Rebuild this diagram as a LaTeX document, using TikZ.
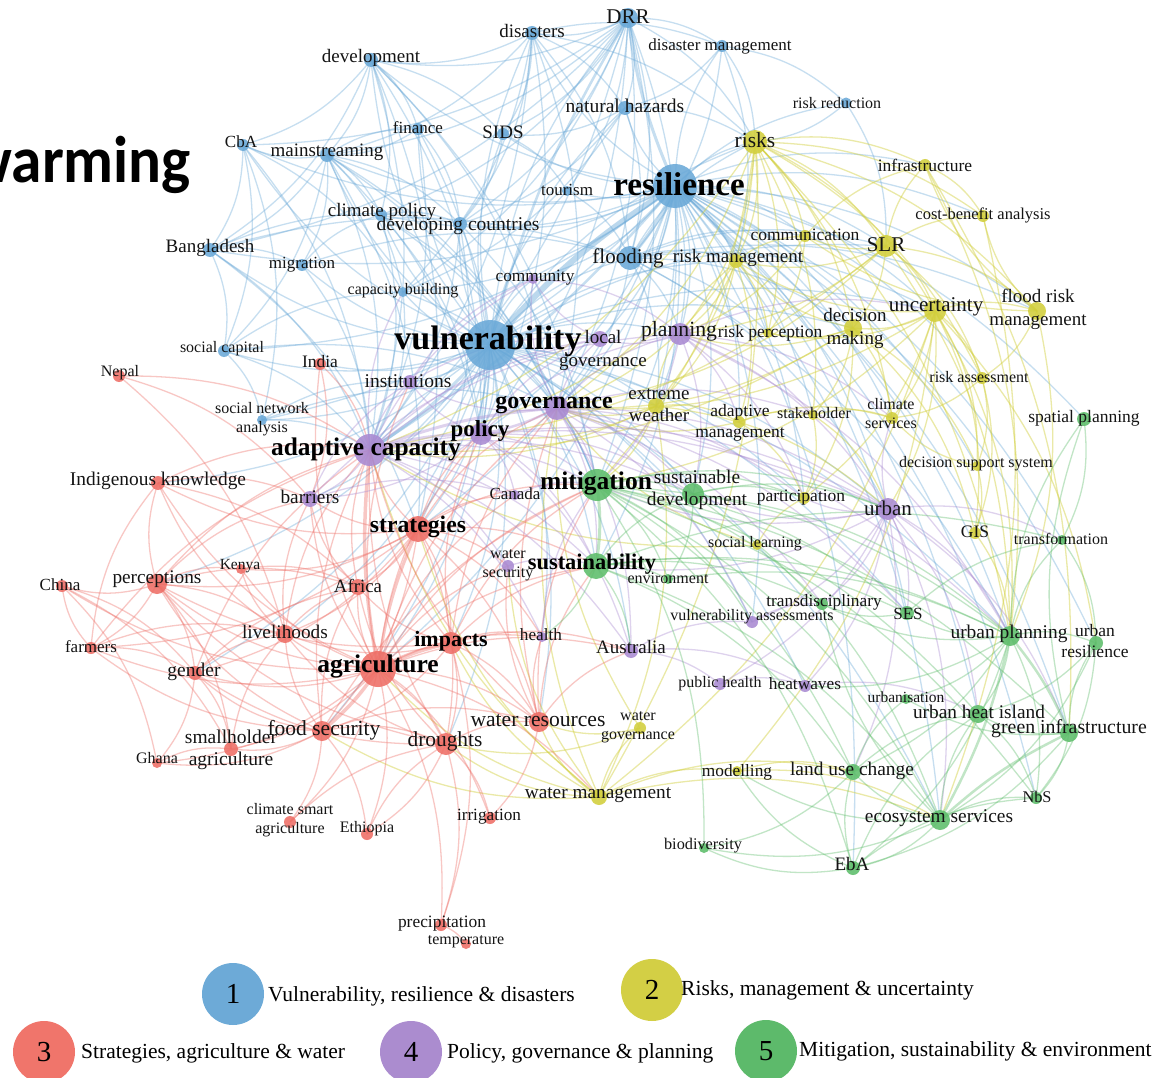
\documentclass[tikz,border=0pt]{standalone}
\usepackage{fontspec}
\setmainfont{Liberation Serif}
\newfontfamily\warmfont{Carlito}
\usetikzlibrary{backgrounds}
\pgfdeclarelayer{bottom}
\pgfsetlayers{bottom,background,main}
\definecolor{cA}{HTML}{6AA9D8}
\definecolor{cB}{HTML}{D2CF3C}
\definecolor{cC}{HTML}{EE6E66}
\definecolor{cD}{HTML}{A98AD2}
\definecolor{cE}{HTML}{5DBD6A}
\definecolor{lA}{HTML}{6DAAD7}
\definecolor{lB}{HTML}{D3CF45}
\definecolor{lC}{HTML}{F0756B}
\definecolor{lD}{HTML}{AB8CCF}
\definecolor{lE}{HTML}{5DBA6B}
\tikzset{
  kw/.style={circle,inner sep=0pt,draw=none,fill opacity=0.88},
  kA/.style={kw,fill=cA,minimum size=#1},
  kB/.style={kw,fill=cB,minimum size=#1},
  kC/.style={kw,fill=cC,minimum size=#1},
  kD/.style={kw,fill=cD,minimum size=#1},
  kE/.style={kw,fill=cE,minimum size=#1},
  lab/.style={inner sep=0pt,text=black!92,font=\fontsize{#1}{#1}\selectfont},
  blab/.style={inner sep=0pt,text=black,font=\fontsize{#1}{#1}\selectfont\bfseries},
  ml/.style={align=center},
  eA/.style={draw=cA,draw opacity=0.38,line width=1.3pt},
  eB/.style={draw=cB,draw opacity=0.45,line width=1.3pt},
  eC/.style={draw=cC,draw opacity=0.38,line width=1.3pt},
  eD/.style={draw=cD,draw opacity=0.38,line width=1.3pt},
  eE/.style={draw=cE,draw opacity=0.38,line width=1.3pt},
  legc/.style={circle,inner sep=0pt,minimum width=60pt,minimum height=62pt,font=\fontsize{29}{29}\selectfont},
  legt/.style={anchor=west,inner sep=0pt,font=\fontsize{21.5}{21.5}\selectfont},
}
\begin{document}
\begin{tikzpicture}[x=1pt,y=-1pt]
\useasboundingbox (0,0) rectangle (1168,1078);
\begin{pgfonlayer}{bottom}
\fill[white] (0,0) rectangle (1168,1078);
\end{pgfonlayer}
\begin{scope}
\clip (0,0) rectangle (1168,1078);
\node[anchor=base east,inner sep=0pt,xscale=0.93,font=\warmfont\bfseries\fontsize{66}{66}\selectfont] (warm) at (191,183) {warming};
\end{scope}
% ---------- cluster 1 (blue)
\node[kA=20] (drr) at (628,18) {};
\node[kA=14] (dis) at (532,33) {};
\node[kA=12] (dism) at (722,46) {};
\node[kA=14] (dev) at (371,60) {};
\node[kA=14] (nh) at (625,108) {};
\node[kA=11] (rr) at (846,103) {};
\node[kA=12] (fin) at (418,129) {};
\node[kA=12] (sids) at (503,134) {};
\node[kA=12] (cba) at (243,145) {};
\node[kA=14] (main) at (327,155) {};
\node[kA=10] (tour) at (567,191) {};
\node[kA=44] (res) at (675,186) {};
\node[kA=12] (cp) at (381,215) {};
\node[kA=14] (dc) at (460,224) {};
\node[kA=14] (bang) at (210,250) {};
\node[kA=12] (mig) at (302,265) {};
\node[kA=24] (flood) at (630,258) {};
\node[kA=10] (cb) at (403,292) {};
\node[kA=50] (vul) at (490,345) {};
\node[kA=12] (sc) at (224,351) {};
\node[kA=10] (sna) at (262,420) {};
% ---------- cluster 2 (yellow)
\node[kB=24] (risks) at (755,142) {};
\node[kB=12] (infra) at (925,165) {};
\node[kB=12] (cbana) at (983,216) {};
\node[kB=12] (comm) at (805,236) {};
\node[kB=22] (slr) at (886,246) {};
\node[kB=14] (rm) at (736,261) {};
\node[kB=10] (rp) at (768,333) {};
\node[kB=18] (dm) at (853,328) {};
\node[kB=22] (unc) at (935,311) {};
\node[kB=18] (frm) at (1037,311) {};
\node[kB=12] (ra) at (982,378) {};
\node[kB=16] (ew) at (656,406) {};
\node[kB=12] (am) at (739,422) {};
\node[kB=10] (stake) at (813,415) {};
\node[kB=12] (cs) at (892,418) {};
\node[kB=10] (dss) at (977,466) {};
\node[kB=12] (part) at (804,498) {};
\node[kB=12] (gis) at (975,533) {};
\node[kB=10] (sl) at (757,545) {};
\node[kB=12] (wg) at (640,728) {};
\node[kB=10] (mod) at (737,771) {};
\node[kB=16] (wm) at (599,797) {};
% ---------- cluster 3 (red)
\node[kC=12] (nepal) at (119,376) {};
\node[kC=12] (india) at (320,364) {};
\node[kC=14] (ik) at (158,483) {};
\node[kC=12] (china) at (62,586) {};
\node[kC=20] (perc) at (157,584) {};
\node[kC=10] (kenya) at (241,569) {};
\node[kC=16] (africa) at (358,587) {};
\node[kC=26] (strat) at (418,529) {};
\node[kC=12] (farm) at (91,648) {};
\node[kC=18] (live) at (285,634) {};
\node[kC=14] (gender) at (195,673) {};
\node[kC=36] (agri) at (378,669) {};
\node[kC=22] (imp) at (451,643) {};
\node[kC=14] (sha) at (231,749) {};
\node[kC=10] (ghana) at (157,763) {};
\node[kC=20] (fs) at (322,731) {};
\node[kC=22] (drought) at (446,744) {};
\node[kC=20] (wr) at (539,722) {};
\node[kC=12] (csa) at (290,822) {};
\node[kC=12] (eth) at (367,834) {};
\node[kC=12] (irr) at (490,818) {};
\node[kC=12] (prec) at (441,925) {};
\node[kC=10] (temp) at (466,944) {};
% ---------- cluster 4 (purple)
\node[kD=16] (local) at (600,339) {};
\node[kD=22] (plan) at (680,334) {};
\node[kD=14] (inst) at (410,382) {};
\node[kD=24] (gov) at (557,408) {};
\node[kD=22] (pol) at (481,434) {};
\node[kD=32] (ac) at (370,450) {};
\node[kD=16] (barr) at (310,499) {};
\node[kD=12] (ws) at (508,566) {};
\node[kD=22] (urban) at (888,509) {};
\node[kD=12] (va) at (752,622) {};
\node[kD=14] (aus) at (631,651) {};
\node[kD=12] (ph) at (720,684) {};
\node[kD=12] (heat) at (805,686) {};
\node[kD=10] (health) at (542,637) {};
\node[kD=10] (cmty) at (533,279) {};
\node[kD=10] (canada) at (515,495) {};
% ---------- cluster 5 (green)
\node[kE=14] (sp) at (1084,419) {};
\node[kE=32] (mit) at (597,485) {};
\node[kE=22] (sd) at (693,494) {};
\node[kE=26] (sust) at (596,566) {};
\node[kE=10] (env) at (668,579) {};
\node[kE=10] (transf) at (1062,540) {};
\node[kE=12] (trans) at (822,604) {};
\node[kE=14] (ses) at (907,613) {};
\node[kE=20] (up) at (1010,636) {};
\node[kE=14] (ur) at (1096,643) {};
\node[kE=10] (urbn) at (906,699) {};
\node[kE=18] (uhi) at (978,714) {};
\node[kE=18] (gi) at (1069,733) {};
\node[kE=16] (luc) at (853,772) {};
\node[kE=12] (nbs) at (1036,798) {};
\node[kE=20] (es) at (940,820) {};
\node[kE=10] (bio) at (704,848) {};
\node[kE=14] (eba) at (853,868) {};
% ================= edges
\begin{pgfonlayer}{background}
\foreach \a/\b in {vul/flood,vul/dis,vul/drr,vul/dev,vul/main,vul/cp,vul/dc,vul/bang,vul/mig,vul/cb,vul/sc,vul/sna,vul/sids,vul/fin,vul/tour,vul/nh,vul/cba,vul/gov,vul/pol,vul/agri,vul/strat,vul/imp,vul/mit,vul/sust,vul/plan,vul/local,vul/inst,vul/urban,vul/risks,vul/unc,vul/india,vul/perc,vul/live,vul/ew,vul/wr,vul/fs,vul/drought,vul/health,vul/sd,vul/aus,vul/cmty,vul/slr,vul/rm,vul/dm,vul/barr,vul/africa,vul/ik,vul/gender,vul/up,vul/es,vul/va,vul/heat,vul/ses,vul/part,
res/dis,res/dism,res/nh,res/rr,res/risks,res/slr,res/unc,res/comm,res/rm,res/infra,res/sids,res/tour,res/dc,res/main,res/dev,res/cp,res/plan,res/gov,res/urban,res/dm,res/frm,res/up,res/sust,res/mit,res/sd,res/ses,res/transf,res/gi,res/es,res/cmty,res/local,res/ew,res/ra,res/cs,res/dss,res/part,res/rp,res/ur,res/uhi,res/cb,res/bang,res/pol,res/sp,res/am,res/stake,res/va,res/eba,res/nbs,res/cbana,res/cba,res/sc,res/sna,res/strat,res/agri,
drr/dis,drr/dism,drr/nh,drr/main,drr/dev,drr/cp,drr/sids,drr/cb,drr/dc,drr/flood,drr/risks,drr/bang,drr/cba,drr/ac,drr/tour,drr/ew,drr/gov,drr/pol,drr/mit,
dis/dev,dis/nh,dis/dism,dis/sids,dis/flood,dis/main,dis/cb,dis/dc,dis/ac,dis/risks,dis/pol,dis/gov,
dism/nh,dism/flood,dism/risks,dism/rr,dism/rm,
dev/main,dev/cba,dev/cp,dev/fin,dev/ac,dev/sids,dev/bang,dev/gov,dev/pol,dev/mit,dev/strat,
main/cba,main/cp,main/dc,main/fin,main/ac,main/bang,main/sc,main/cb,main/mig,main/gov,main/pol,main/strat,main/mit,
cba/bang,cba/cb,cba/sc,cba/sna,cba/ac,bang/mig,bang/flood,bang/ac,bang/sc,bang/dc,bang/strat,mig/flood,mig/ac,mig/cp,
flood/rm,flood/risks,flood/slr,flood/unc,flood/frm,flood/plan,flood/dm,flood/comm,flood/rp,flood/ew,flood/urban,flood/up,flood/gov,
nh/flood,nh/risks,nh/sids,nh/cb,nh/dc,sids/tour,sids/dc,fin/dc,fin/main,fin/ac,fin/pol,cp/dc,cp/ac,cp/pol,cp/gov,cp/mit,dc/mit,dc/pol,dc/strat,rr/risks,rr/slr,
sc/sna,sc/ac,sc/cb,sc/gov,sna/ac,sna/gov,sna/inst,cb/ac,cb/gov,dc/ac,tour/flood}
  \draw[eA] (\a.center) to[bend left=17] (\b.center);
\draw[eA,line width=6pt,draw opacity=0.45] (vul.center) to[bend left=8] (res.center);
\draw[eA,line width=3.5pt] (res.center) to[bend left=8] (flood.center);
\draw[eA,line width=3pt] (res.center) to[bend left=8] (drr.center);
\draw[eA,line width=3pt] (vul.center) to[bend left=8] (ac.center);
\draw[eA,line width=2.5pt] (res.center) to[bend left=8] (ac.center);
\draw[eA,line width=2.5pt] (vul.center) to[bend left=8] (drr.center);
\foreach \a/\b in {risks/slr,risks/unc,risks/infra,risks/comm,risks/rm,risks/dm,risks/frm,risks/rp,risks/ra,risks/cbana,risks/ew,risks/plan,risks/wm,risks/gov,risks/ac,risks/up,risks/mit,risks/cs,risks/stake,
slr/unc,slr/dm,slr/infra,slr/cbana,slr/frm,slr/comm,slr/rm,slr/plan,slr/ac,slr/up,slr/ra,slr/gov,
unc/dm,unc/frm,unc/ra,unc/dss,unc/cs,unc/part,unc/gis,unc/ur,unc/up,unc/rm,unc/rp,unc/mit,unc/wm,unc/mod,unc/urban,unc/gov,
frm/cbana,frm/infra,frm/ra,frm/up,frm/comm,
dm/rp,dm/rm,dm/cs,dm/dss,dm/part,dm/stake,dm/plan,dm/gis,dm/gov,dm/ac,
rm/comm,rm/rp,rm/plan,rm/am,rm/gov,rm/ew,rm/ac,comm/rp,comm/infra,comm/plan,infra/cbana,infra/up,infra/gi,
ew/gov,ew/am,ew/mit,ew/wm,ew/plan,ew/ac,ew/pol,ew/urban,am/stake,am/part,am/gov,am/cs,stake/cs,stake/part,stake/urban,
dss/gis,dss/cs,ra/gis,ra/dss,ra/cs,
wm/wg,wm/wr,wm/drought,wm/agri,wm/gov,wm/mod,wm/luc,wm/es,wm/imp,wm/ac,wm/ws,wm/strat,wm/fs,
wg/wr,wg/drought,wg/gov,mod/luc,mod/es,sl/part,sl/gov,sl/ac,gis/up,cbana/es}
  \draw[eB] (\a.center) to[bend left=17] (\b.center);
\foreach \a/\b in {agri/drought,agri/wr,agri/live,agri/gender,agri/perc,agri/sha,agri/africa,agri/kenya,agri/ik,agri/farm,agri/china,agri/ghana,agri/csa,agri/eth,agri/irr,agri/barr,agri/mit,agri/sust,agri/pol,agri/gov,agri/india,agri/health,agri/ws,agri/canada,agri/wm,agri/prec,agri/aus,agri/inst,
strat/imp,strat/ac,strat/perc,strat/live,strat/africa,strat/barr,strat/fs,strat/drought,strat/wr,strat/ik,strat/gender,strat/farm,strat/pol,strat/mit,strat/canada,strat/sust,strat/kenya,strat/gov,strat/health,strat/ws,
imp/fs,imp/drought,imp/wr,imp/health,imp/africa,imp/ac,imp/mit,imp/prec,imp/live,imp/perc,imp/sust,imp/aus,imp/gov,imp/pol,
fs/drought,fs/sha,fs/live,fs/gender,fs/csa,fs/eth,fs/africa,fs/ghana,fs/wr,fs/perc,fs/ac,fs/farm,fs/mit,
drought/wr,drought/irr,drought/prec,drought/eth,drought/perc,drought/live,drought/africa,drought/ac,drought/gender,
wr/irr,wr/ws,wr/health,wr/mit,wr/ac,wr/sust,wr/gov,wr/aus,
perc/china,perc/farm,perc/ik,perc/kenya,perc/gender,perc/sha,perc/ac,perc/live,perc/barr,perc/africa,
farm/china,farm/gender,farm/ik,farm/ac,farm/live,china/gender,china/ghana,china/sha,
gender/live,gender/sha,gender/ghana,gender/ac,gender/africa,ghana/sha,sha/live,
live/kenya,live/africa,live/ac,live/ik,live/barr,ik/ac,ik/barr,ik/africa,
nepal/ac,nepal/barr,nepal/live,india/ac,india/barr,prec/temp,kenya/africa,africa/ac,africa/barr,csa/drought,eth/drought}
  \draw[eC] (\a.center) to[bend left=17] (\b.center);
\draw[eC,line width=4pt] (agri.center) to[bend left=8] (imp.center);
\draw[eC,line width=3.5pt] (agri.center) to[bend left=8] (fs.center);
\draw[eC,line width=3pt] (agri.center) to[bend left=8] (strat.center);
\draw[eC,line width=3.5pt] (agri.center) to[bend left=8] (ac.center);
\foreach \a/\b in {ac/inst,ac/barr,ac/local,ac/plan,ac/urban,ac/mit,ac/sust,ac/canada,ac/ws,ac/cb,ac/cmty,ac/sd,ac/aus,ac/health,
gov/inst,gov/local,gov/plan,gov/urban,gov/mit,gov/sust,gov/part,gov/stake,gov/trans,gov/aus,gov/sd,gov/cmty,gov/up,gov/ses,gov/va,
pol/inst,pol/barr,pol/mit,pol/plan,pol/urban,pol/sust,pol/local,pol/canada,pol/aus,pol/sd,
plan/local,plan/urban,plan/up,plan/part,plan/unc,plan/stake,plan/mit,plan/sd,plan/cs,plan/am,
urban/up,urban/ses,urban/uhi,urban/heat,urban/gi,urban/part,urban/va,urban/mit,urban/trans,urban/es,urban/cs,urban/sust,urban/luc,urban/ph,urban/sd,urban/transf,
barr/local,barr/canada,barr/inst,aus/heat,aus/ph,aus/va,ph/heat,heat/uhi,va/trans,
inst/local,inst/cmty,local/cmty,cmty/plan,ws/sust,health/mit,canada/mit}
  \draw[eD] (\a.center) to[bend left=17] (\b.center);
\draw[eD,line width=3pt] (ac.center) to[bend left=8] (pol.center);
\draw[eD,line width=3pt] (ac.center) to[bend left=8] (gov.center);
\draw[eD,line width=2.5pt] (gov.center) to[bend left=8] (pol.center);
\foreach \a/\b in {mit/sd,mit/env,mit/up,mit/uhi,mit/gi,mit/es,mit/luc,mit/trans,mit/ses,mit/bio,mit/eba,mit/urban,mit/va,mit/part,mit/nbs,
sust/sd,sust/env,sust/ses,sust/up,sust/es,sust/trans,sust/transf,sust/luc,sust/health,sust/aus,
sd/env,sd/up,sd/part,sd/urban,sd/es,
up/ur,up/uhi,up/sp,up/transf,up/ses,up/nbs,up/luc,up/urbn,up/eba,up/trans,up/heat,
gi/uhi,gi/nbs,gi/ur,gi/eba,gi/urbn,gi/sp,
es/eba,es/nbs,es/luc,es/bio,es/uhi,es/mod,es/trans,
eba/luc,eba/nbs,eba/bio,eba/mod,eba/uhi,luc/bio,luc/urbn,luc/uhi,
sp/transf,ses/transf,ses/trans,ur/uhi,ur/nbs,ur/es,uhi/nbs,transf/ur,env/up}
  \draw[eE] (\a.center) to[bend left=17] (\b.center);
\draw[eE,line width=3pt] (mit.center) to[bend left=8] (sust.center);
\draw[eE,line width=2.5pt] (up.center) to[bend left=8] (gi.center);
\draw[eE,line width=2.5pt] (es.center) to[bend left=8] (gi.center);
\draw[eE,line width=2.5pt] (up.center) to[bend left=8] (es.center);
\end{pgfonlayer}
% ================= labels
\node[lab=21] (drr-t) at (628,17) {DRR};
\node[lab=19] (dis-t) at (532,31) {disasters};
\node[lab=17] (dism-t) at (720,46) {disaster management};
\node[lab=19] (dev-t) at (371,58) {development};
\node[lab=19.5] (nh-t) at (625,106) {natural hazards};
\node[lab=16] (rr-t) at (837,103) {risk reduction};
\node[lab=17] (fin-t) at (418,128) {finance};
\node[lab=19] (sids-t) at (503,132) {SIDS};
\node[lab=17] (cba-t) at (241,142) {CbA};
\node[lab=19] (main-t) at (327,152) {mainstreaming};
\node[lab=17] (tour-t) at (567,190) {tourism};
\node[blab=33] (res-t) at (679,184) {resilience};
\node[lab=19] (cp-t) at (382,212) {climate policy};
\node[lab=19.5] (dc-t) at (458,226) {developing countries};
\node[lab=19] (bang-t) at (210,248) {Bangladesh};
\node[lab=17] (mig-t) at (302,265) {migration};
\node[lab=21] (flood-t) at (628,258) {flooding};
\node[lab=16] (cb-t) at (403,291) {capacity building};
\node[blab=34] (vul-t) at (488,341) {vulnerability};
\node[lab=16] (sc-t) at (222,349) {social capital};
\node[lab=16,ml] (sna-t) at (262,419) {social network\\[3pt]analysis};
\node[lab=21.5] (risks-t) at (755,140) {risks};
\node[lab=17.5] (infra-t) at (925,165) {infrastructure};
\node[lab=16.5] (cbana-t) at (983,215) {cost-benefit analysis};
\node[lab=17.5] (comm-t) at (805,235) {communication};
\node[lab=21] (slr-t) at (886,245) {SLR};
\node[lab=19] (rm-t) at (738,258) {risk management};
\node[lab=17.5] (rp-t) at (770,333) {risk perception};
\node[lab=19,ml] (dm-t) at (855,328) {decision\\[4pt]making};
\node[lab=21] (unc-t) at (936,307) {uncertainty};
\node[lab=19,ml] (frm-t) at (1038,309) {flood risk\\[4pt]management};
\node[lab=16] (ra-t) at (979,377) {risk assessment};
\node[lab=19,ml] (ew-t) at (659,405) {extreme\\[3pt]weather};
\node[lab=17.5,ml] (am-t) at (740,423) {adaptive\\[3pt]management};
\node[lab=16] (stake-t) at (814,413) {stakeholder};
\node[lab=16,ml] (cs-t) at (891,414) {climate\\[3pt]services};
\node[lab=16] (dss-t) at (976,464) {decision support system};
\node[lab=17.5] (part-t) at (801,498) {participation};
\node[lab=17.5] (gis-t) at (975,532) {GIS};
\node[lab=16] (sl-t) at (755,544) {social learning};
\node[lab=16,ml] (wg-t) at (638,727) {water\\[3pt]governance};
\node[lab=17.3] (mod-t) at (737,772) {modelling};
\node[lab=19.3] (wm-t) at (598,795) {water management};
\node[lab=16] (nepal-t) at (120,373) {Nepal};
\node[lab=17.5] (india-t) at (320,362) {India};
\node[lab=19.4] (ik-t) at (158,481) {Indigenous knowledge};
\node[lab=17] (china-t) at (60,585) {China};
\node[lab=19.3] (perc-t) at (157,579) {perceptions};
\node[lab=15.5] (kenya-t) at (240,566) {Kenya};
\node[lab=18.8] (africa-t) at (358,586) {Africa};
\node[blab=23.7] (strat-t) at (418,527) {strategies};
\node[lab=17] (farm-t) at (91,647) {farmers};
\node[lab=19.3] (live-t) at (285,632) {livelihoods};
\node[lab=19.5] (gender-t) at (194,672) {gender};
\node[blab=25.5] (agri-t) at (378,666) {agriculture};
\node[blab=22] (imp-t) at (451,641) {impacts};
\node[lab=19.5,ml] (sha-t) at (231,750) {smallholder\\[3pt]agriculture};
\node[lab=16] (ghana-t) at (157,758) {Ghana};
\node[lab=21.5] (fs-t) at (324,730) {food security};
\node[lab=21.4] (drought-t) at (445,741) {droughts};
\node[lab=21.6] (wr-t) at (538,721) {water resources};
\node[lab=16,ml] (csa-t) at (290,820) {climate smart\\[3pt]agriculture};
\node[lab=16] (eth-t) at (367,829) {Ethiopia};
\node[lab=17.2] (irr-t) at (489,817) {irrigation};
\node[lab=17.4] (prec-t) at (442,924) {precipitation};
\node[lab=16] (temp-t) at (466,942) {temperature};
\node[lab=19,ml] (local-t) at (603,350) {local\\[4pt]governance};
\node[lab=21.7] (plan-t) at (679,331) {planning};
\node[lab=19.5] (inst-t) at (408,381) {institutions};
\node[blab=24] (gov-t) at (554,405) {governance};
\node[blab=23] (pol-t) at (480,431) {policy};
\node[blab=25.4] (ac-t) at (366,449) {adaptive capacity};
\node[lab=19.3] (barr-t) at (310,497) {barriers};
\node[lab=16,ml] (ws-t) at (508,565) {water\\[3pt]security};
\node[lab=21] (urban-t) at (888,508) {urban};
\node[lab=16] (va-t) at (752,617) {vulnerability assessments};
\node[lab=19] (aus-t) at (631,647) {Australia};
\node[lab=16] (ph-t) at (720,684) {public health};
\node[lab=17.3] (heat-t) at (805,684) {heatwaves};
\node[lab=17.2] (health-t) at (541,635) {health};
\node[lab=17.3] (cmty-t) at (535,278) {community};
\node[lab=17] (canada-t) at (515,494) {Canada};
\node[lab=17.5] (sp-t) at (1084,418) {spatial planning};
\node[blab=25.5] (mit-t) at (596,483) {mitigation};
\node[lab=19.4,ml] (sd-t) at (697,490) {sustainable\\[3pt]development};
\node[blab=22.4] (sust-t) at (592,564) {sustainability};
\node[lab=16] (env-t) at (668,578) {environment};
\node[lab=16] (transf-t) at (1061,539) {transformation};
\node[lab=17.3] (trans-t) at (824,602) {transdisciplinary};
\node[lab=17] (ses-t) at (908,614) {SES};
\node[lab=19.4] (up-t) at (1009,634) {urban planning};
\node[lab=17.5,ml] (ur-t) at (1095,641) {urban\\[3pt]resilience};
\node[lab=15.5] (urbn-t) at (906,697) {urbanisation};
\node[lab=19.3] (uhi-t) at (979,712) {urban heat island};
\node[lab=19.8] (gi-t) at (1069,729) {green infrastructure};
\node[lab=19.4] (luc-t) at (852,771) {land use change};
\node[lab=16.3] (nbs-t) at (1037,797) {NbS};
\node[lab=19.4] (es-t) at (939,818) {ecosystem services};
\node[lab=16.3] (bio-t) at (703,846) {biodiversity};
\node[lab=19] (eba-t) at (852,864) {EbA};
% ================= legend
\node[legc,fill=lA] (leg1) at (233,994) {1};
\node[legt] (leg1-t) at (268,996) {Vulnerability, resilience \& disasters};
\node[legc,fill=lB] (leg2) at (652,990) {2};
\node[legt] (leg2-t) at (681,990) {Risks, management \& uncertainty};
\node[legc,fill=lC] (leg3) at (44,1052) {3};
\node[legt] (leg3-t) at (81,1053) {Strategies, agriculture \& water};
\node[legc,fill=lD] (leg4) at (411,1052) {4};
\node[legt] (leg4-t) at (447,1053) {Policy, governance \& planning};
\node[legc,fill=lE] (leg5) at (766,1051) {5};
\node[legt] (leg5-t) at (799,1051) {Mitigation, sustainability \& environment};
\end{tikzpicture}
\end{document}
